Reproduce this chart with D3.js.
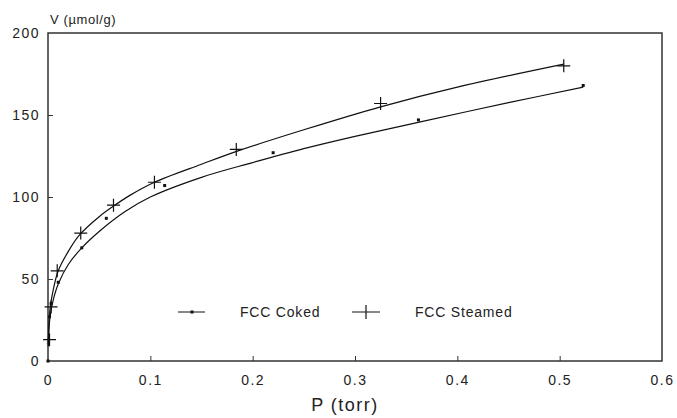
<!DOCTYPE html>
<html>
<head>
<meta charset="utf-8">
<script src="https://cdn.jsdelivr.net/npm/d3@7"></script>
<style>
  html, body { margin: 0; padding: 0; background: #fff; }
  svg text { font-family: "Liberation Sans", Arial, sans-serif; fill: #222; }
</style>
</head>
<body>
<div id="chart"></div>
<script>
// measured points
var cokedP = [0, 0.0015, 0.003, 0.01, 0.033, 0.057, 0.114, 0.22, 0.362, 0.523]
var cokedV = [0, 27, 35, 48, 69, 87, 107, 127, 147, 168]
var steamedP = [0.0015, 0.003, 0.009, 0.032, 0.064, 0.104, 0.184, 0.325, 0.504]
var steamedV = [13, 33, 55, 78, 95, 109, 129, 157, 180]

// fitted curves
var cokedFitP = [0.0003, 0.001, 0.002, 0.005, 0.01, 0.02, 0.033, 0.05, 0.075, 0.1, 0.15, 0.2, 0.25, 0.3, 0.365, 0.45, 0.523]
var cokedFitV = [9, 20, 27, 37, 47, 59, 69, 79, 91, 100, 112, 121, 129.5, 137, 146, 157.5, 167]
var steamedFitP = [0.0003, 0.001, 0.002, 0.005, 0.01, 0.02, 0.031, 0.05, 0.063, 0.08, 0.104, 0.15, 0.185, 0.25, 0.325, 0.4, 0.504]
var steamedFitV = [10, 24, 32, 43, 55, 67, 77, 88, 94, 101, 109, 120, 128, 141, 155, 167, 181]

var xTicks = [0, 0.1, 0.2, 0.3, 0.4, 0.5, 0.6]
var yTicks = [0, 50, 100, 150, 200]
var legendLabels = ["FCC Coked", "FCC Steamed"]

function zip(a, b) { return a.map(function(d, i){ return {p: d, v: b[i]} }) }

var width = 677, height = 418
var margin = {top: 33, right: 15, bottom: 57, left: 48}
var w = width - margin.left - margin.right
var h = height - margin.top - margin.bottom

var x = d3.scaleLinear().domain([0, 0.6]).range([0, w])
var y = d3.scaleLinear().domain([0, 200]).range([h, 0])

var svg = d3.select("#chart").append("svg")
  .attr("width", width)
  .attr("height", height)

var g = svg.append("g")
  .attr("transform", "translate(" + margin.left + "," + margin.top + ")")

// Frame
g.append("rect")
  .attr("x", 0).attr("y", 0)
  .attr("width", w).attr("height", h)
  .attr("fill", "none")
  .attr("stroke", "#333")
  .attr("stroke-width", 1.5)

// Axes
var xAxis = d3.axisBottom(x)
  .tickValues(xTicks)
  .tickSize(-5)
  .tickPadding(14)
  .tickFormat(function(d){ return d === 0 ? "0" : d3.format(".1f")(d) })
var yAxis = d3.axisLeft(y)
  .tickValues(yTicks)
  .tickSize(-5)
  .tickPadding(8)

g.append("g")
  .attr("class", "axis axis--x")
  .attr("transform", "translate(0," + h + ")")
  .call(xAxis)

g.append("g")
  .attr("class", "axis axis--y")
  .call(yAxis)

g.selectAll(".domain").remove()
g.selectAll(".tick line").attr("stroke", "#333")
g.selectAll(".tick text")
  .attr("fill", "#222")
  .style("font-size", "14px")
  .style("letter-spacing", "1.5px")
  .style("font-family", "\"Liberation Sans\", Arial, sans-serif")
g.selectAll(".tick line").filter(function(d){ return d === 0 || d === 200 || d === 0.6 }).remove()

// Axis titles
svg.append("text")
  .attr("x", 50).attr("y", 24)
  .style("font-size", "13px")
  .style("letter-spacing", "0.6px")
  .text("V (\u00b5mol/g)")

svg.append("text")
  .attr("x", margin.left + x(0.3) - 10).attr("y", 411)
  .attr("text-anchor", "middle")
  .style("font-size", "18px")
  .style("letter-spacing", "1.5px")
  .text("P (torr)")

// Curves
var line = d3.line()
  .x(function(d){ return x(d.p) })
  .y(function(d){ return y(d.v) })
  .curve(d3.curveCatmullRom.alpha(0.5))

g.append("path")
  .datum(zip(cokedFitP, cokedFitV))
  .attr("fill", "none")
  .attr("stroke", "#111")
  .attr("stroke-width", 1.2)
  .attr("d", line)

g.append("path")
  .datum(zip(steamedFitP, steamedFitV))
  .attr("fill", "none")
  .attr("stroke", "#111")
  .attr("stroke-width", 1.2)
  .attr("d", line)

// Markers
g.selectAll(".dot")
  .data(zip(cokedP, cokedV))
  .enter().append("rect")
    .attr("class", "dot")
    .attr("x", function(d){ return x(d.p) - 1.5 })
    .attr("y", function(d){ return y(d.v) - 1.5 })
    .attr("width", 3).attr("height", 3)
    .attr("fill", "#111")

function plusPath(s) {
  return "M" + (-s) + ",0H" + s + "M0," + (-s) + "V" + s
}
g.selectAll(".plus")
  .data(zip(steamedP, steamedV))
  .enter().append("path")
    .attr("class", "plus")
    .attr("transform", function(d){ return "translate(" + x(d.p) + "," + y(d.v) + ")" })
    .attr("d", plusPath(6.5))
    .attr("stroke", "#111")
    .attr("stroke-width", 1.2)
    .attr("fill", "none")

// Legend
var lg = svg.append("g")
var ly = 312
lg.append("line").attr("x1", 178).attr("x2", 205).attr("y1", ly).attr("y2", ly)
  .attr("stroke", "#111").attr("stroke-width", 1)
lg.append("rect").attr("x", 190.5).attr("y", ly - 1.5).attr("width", 3).attr("height", 3).attr("fill", "#111")
lg.append("text").attr("x", 240).attr("y", ly + 5)
  .style("font-size", "14px").style("letter-spacing", "0.8px").text(legendLabels[0])

lg.append("line").attr("x1", 352).attr("x2", 380).attr("y1", ly).attr("y2", ly)
  .attr("stroke", "#111").attr("stroke-width", 1)
lg.append("path").attr("transform", "translate(366," + ly + ")")
  .attr("d", "M0,-7V7").attr("stroke", "#111").attr("stroke-width", 1.2)
lg.append("text").attr("x", 415).attr("y", ly + 5)
  .style("font-size", "14px").style("letter-spacing", "0.8px").text(legendLabels[1])
</script>
</body>
</html>
